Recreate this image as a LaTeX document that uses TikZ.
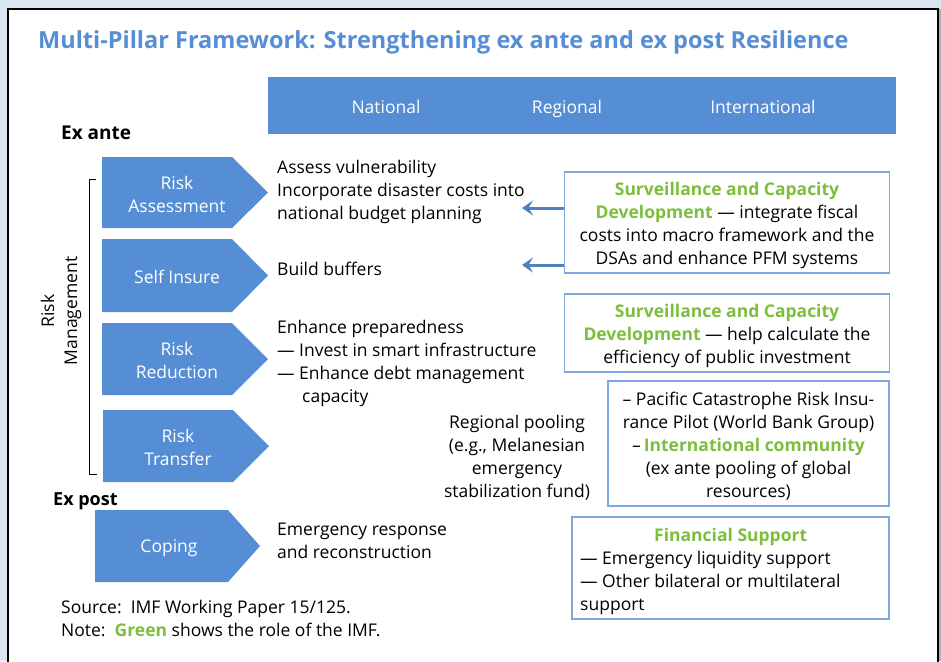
\documentclass[tikz,border=0pt]{standalone}
\usepackage{fontspec}
\setmainfont{Open Sans}
\usetikzlibrary{arrows.meta}
\definecolor{outerbg}{HTML}{DBE5F1}
\definecolor{bluefill}{HTML}{558ED5}
\definecolor{titleblue}{HTML}{558ED5}
\definecolor{imfgreen}{HTML}{7DBE3C}
\definecolor{boxline}{HTML}{7FA7DD}
\definecolor{arrowblue}{HTML}{4F81BD}
\newcommand{\gr}[1]{\textcolor{imfgreen}{\bfseries #1}}
\tikzset{
  txt/.style={font=\fontsize{17.5}{23}\selectfont, inner sep=0pt, align=left, anchor=north west},
  ctxt/.style={font=\fontsize{17.5}{23}\selectfont, inner sep=0pt, align=center},
  wtxt/.style={font=\fontsize{17.5}{23}\selectfont, inner sep=0pt, align=center, text=white},
  chevfill/.style={fill=bluefill},
  infobox/.style={draw=boxline, line width=1.2pt, fill=white, inner sep=0pt},
  larrow/.style={draw=arrowblue, line width=3pt, -{Stealth[length=11pt,width=15pt,inset=4.5pt]}},
}
\newcommand{\chev}[5]{% x0, xflat, tip, ytop, ybot
  \fill[chevfill] (#1,#4) -- (#2,#4) -- (#3,{(#4+#5)/2}) -- (#2,#5) -- (#1,#5) -- cycle;}
\begin{document}
\begin{tikzpicture}[x=1pt,y=-1pt]
\useasboundingbox (0,0) rectangle (941,661);
\fill[outerbg] (0,0) rectangle (941,661);
\fill[white] (8,9) rectangle (938,662);
\draw[black, line width=2pt] (8,662) -- (8,9) -- (938,9) -- (938,662);
\fill[gray!60] (939,9) rectangle (941,661);

% title
\node[anchor=west, inner sep=0pt, text=titleblue, font=\fontsize{23.5}{27}\selectfont\bfseries] (title) at (38,42) {Multi-Pillar Framework: Strengthening ex ante and ex post Resilience};

% header bar
\fill[bluefill] (268,77) rectangle (896,134);
\node[wtxt, anchor=base] (nat) at (386,113) {National};
\node[wtxt, anchor=base] (reg) at (567,113) {Regional};
\node[wtxt, anchor=base] (intl) at (763,113) {International};

% ex ante / ex post
\node[anchor=base west, inner sep=0pt, font=\fontsize{19}{22}\selectfont\bfseries] (exante) at (61,139) {Ex ante};
\node[anchor=base west, inner sep=0pt, font=\fontsize{18}{22}\selectfont\bfseries] (expost) at (53,505) {Ex post};

% chevrons
\chev{102}{232}{268}{157}{228}
\node[wtxt] (ra) at (177,194) {Risk\\Assessment};
\chev{102}{232}{268}{239}{312}
\node[wtxt] (si) at (177,277) {Self Insure};
\chev{102}{232}{268}{323}{395}
\node[wtxt] (rr) at (177,360) {Risk\\Reduction};
\chev{103}{233}{269}{410}{482}
\node[wtxt] (rt) at (178,447) {Risk\\Transfer};
\chev{95}{228}{260}{510}{582}
\node[wtxt] (cop) at (169,548) {Coping};

% bracket
\draw[black, line width=1pt] (96,179) -- (89,179) -- (89,474) -- (97,474);
\node[ctxt, rotate=90] (rm) at (61,311) {Risk\\Management};

% national texts
\node[txt] (t1) at (277,157) {\strut Assess vulnerability\\Incorporate disaster costs into\\national budget planning};
\node[txt] (t2) at (277,259) {\strut Build buffers};
\node[txt] (t3) at (277,317) {\strut Enhance preparedness\\— Invest in smart infrastructure\\— Enhance debt management\\\hspace*{25pt}capacity};
\node[txt] (t5) at (277,519) {\strut Emergency response\\and reconstruction};

% regional
\node[ctxt] (pool) at (517,457.5) {Regional pooling\\(e.g., Melanesian\\emergency\\stabilization fund)};

% boxes
\node[infobox, minimum width=325pt, minimum height=101pt] (b1) at (727,222.5) {};
\node[ctxt] (b1t) at ([yshift=-3pt]b1.center) {\gr{Surveillance and Capacity}\\\gr{Development} — integrate fiscal\\costs into macro framework and the\\DSAs and enhance PFM systems};
\node[infobox, minimum width=325pt, minimum height=78pt] (b2) at (727,333) {};
\node[ctxt] (b2t) at ([yshift=-3pt]b2.center) {\gr{Surveillance and Capacity}\\\gr{Development} — help calculate the\\efficiency of public investment};
\node[infobox, minimum width=281pt, minimum height=125pt] (b3) at (748.5,443.5) {};
\node[ctxt] (b3t) at ([yshift=-2.5pt]b3.center) {– Pacific Catastrophe Risk Insu-\\rance Pilot (World Bank Group)\\–\,\gr{International community}\\(ex ante pooling of global\\resources)};
\node[infobox, minimum width=317pt, minimum height=102pt] (b4) at (730.5,568) {};
\node[txt, anchor=north west] (b4t) at (580,525) {\strut\makebox[301pt]{\gr{Financial Support}}\\— Emergency liquidity support\\— Other bilateral or multilateral\\support};

% arrows
\coordinate (e1) at (522,208);
\coordinate (e2) at (522,265);
\draw[larrow] (b1.west |- e1) -- (e1);
\draw[larrow] (b1.west |- e2) -- (e2);

% source
\node[txt] (src) at (61,597.5) {\strut Source:\ \ IMF Working Paper 15/125.\\Note:\ \ \gr{Green} shows the role of the IMF.};
\end{tikzpicture}
\end{document}
